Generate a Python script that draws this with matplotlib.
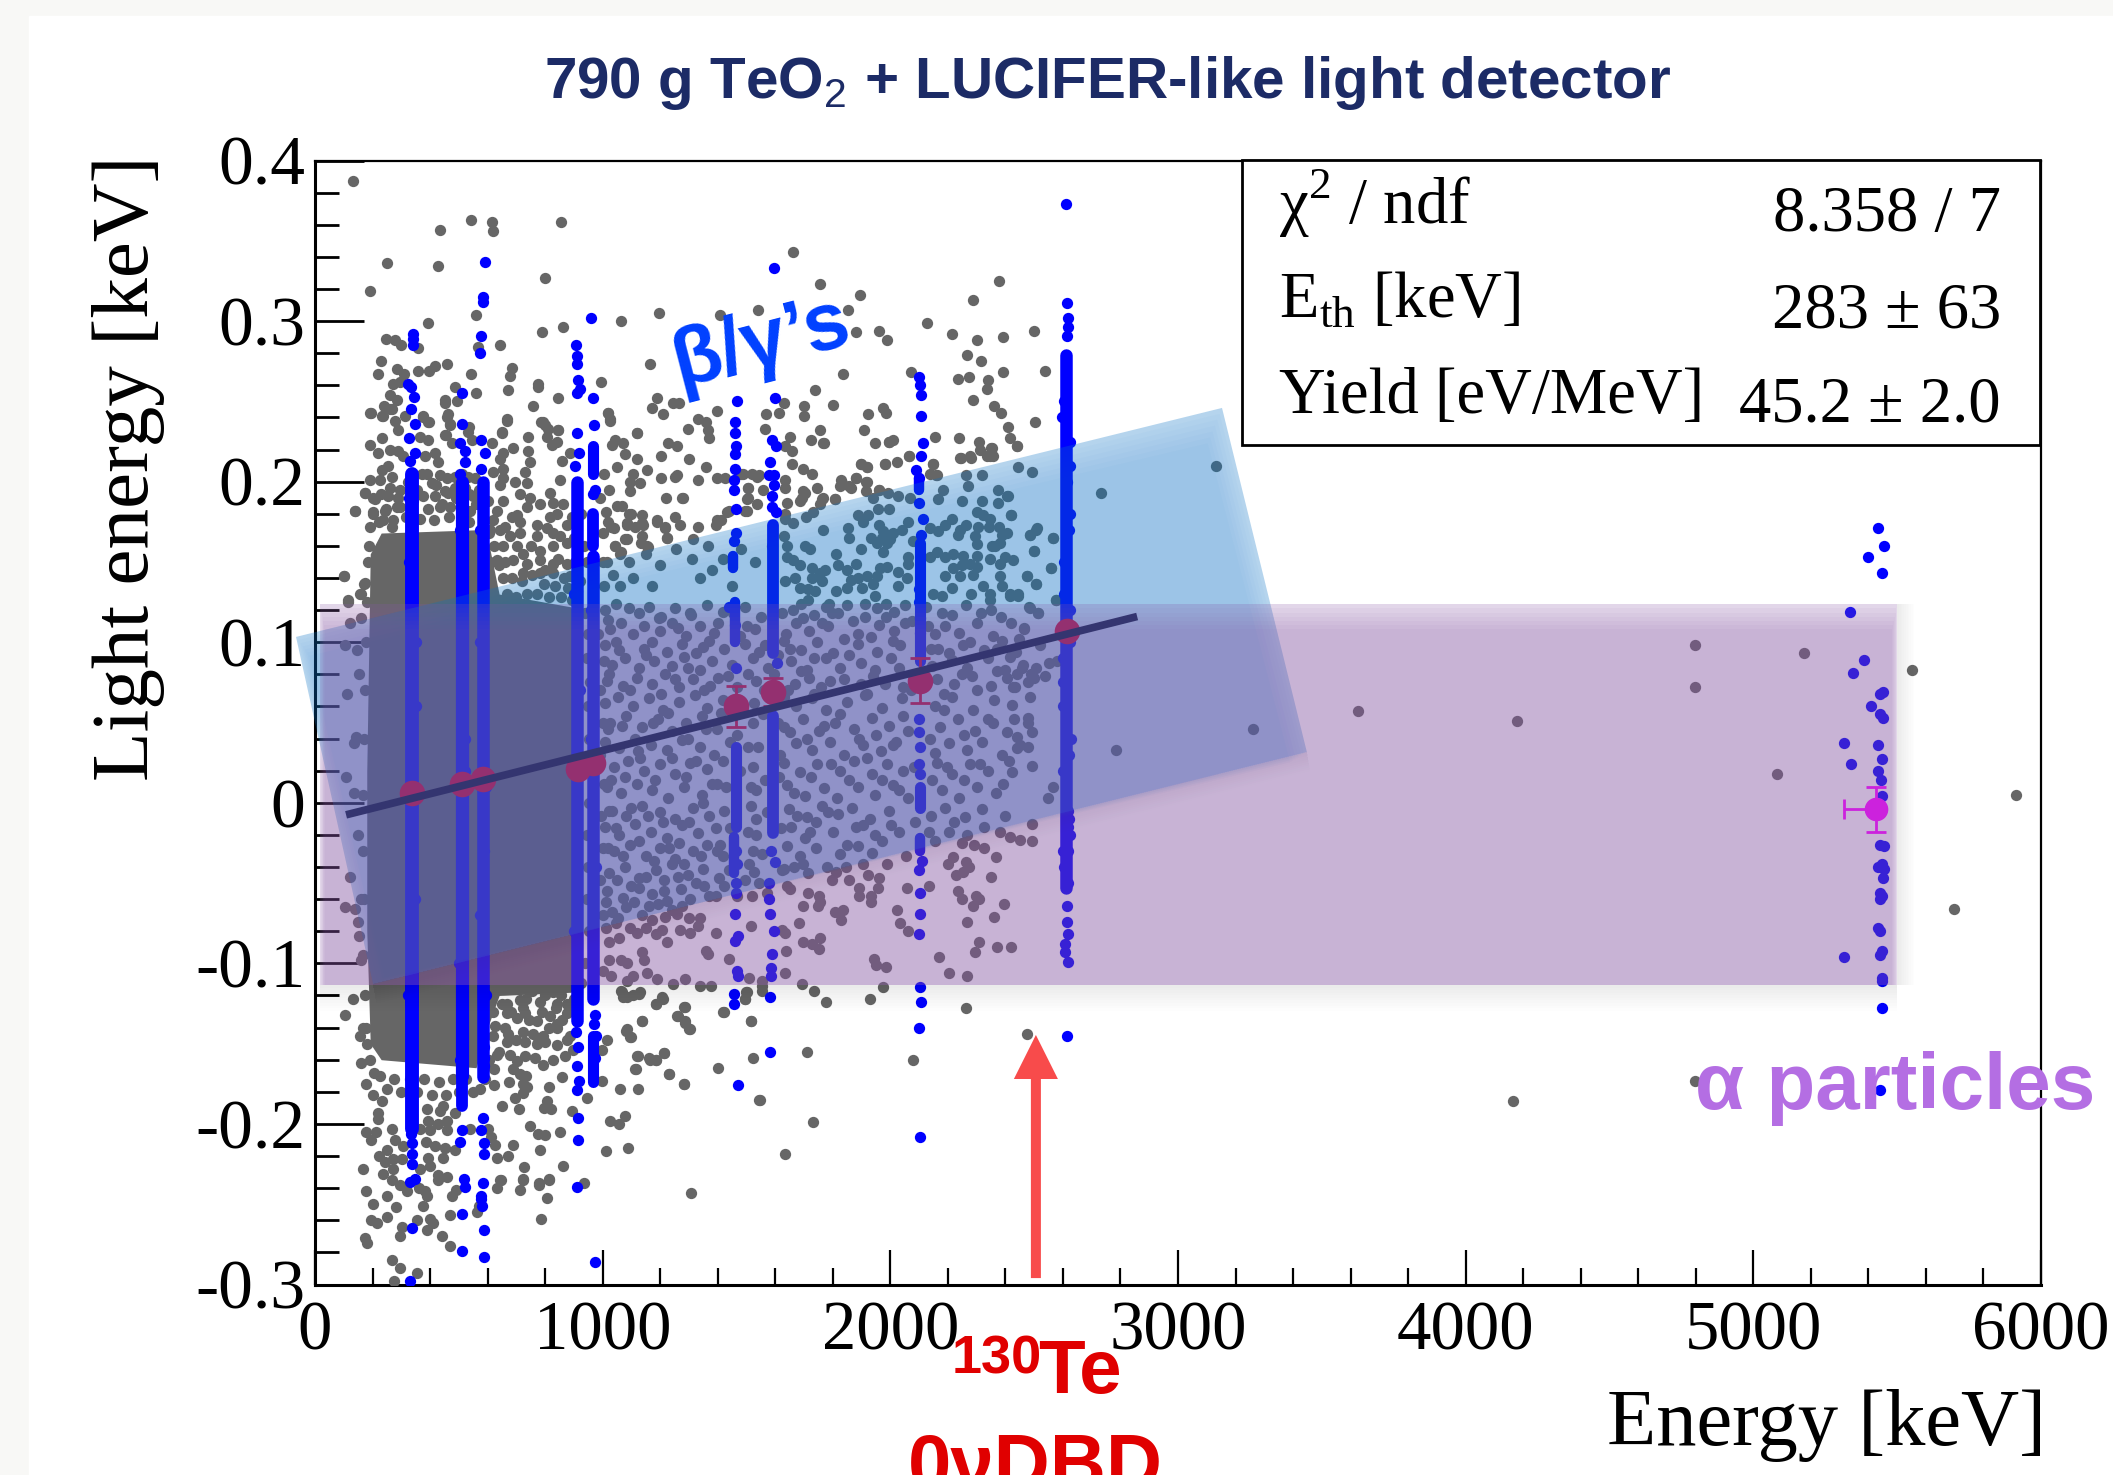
import numpy as np
import matplotlib
matplotlib.use('Agg')
import matplotlib.pyplot as plt
from matplotlib.patches import Polygon, Rectangle

plt.rcParams['mathtext.fontset'] = 'custom'
plt.rcParams['mathtext.rm'] = 'Liberation Serif'
plt.rcParams['mathtext.sf'] = 'Liberation Sans'

# all points below are (energy in keV, light in eV)
gray_top = [(131,387),(249,336),(191,319),(434,357),(427,334),(542,363),(615,362),(620,356),(854,362),(801,327),
 (1661,343),(1757,323),(1893,316),(2379,325),(2287,313),(560,304),(393,299),(643,285),(565,284),(861,296),(790,293),
 (1064,300),(1195,305),(1409,304),(1539,307),(1853,307),(1879,293),(1961,294),(1989,288),(2126,299),(2214,292),
 (2303,288),(2390,290),(2500,294),(2266,279),(2316,275),(2539,269),(2390,268),(1835,267),(2071,268),(2234,264),
 (2275,265),(2340,263),(2335,258),(2287,251),(2360,247),(2385,243),(2408,234),(2417,227),(2440,222),(2504,237),
 (2154,228),(2238,227),(2309,225),(2351,221),(2245,215),(2280,215),(2346,216),(2064,216),(2147,211),(2160,204),
 (246,289),(278,288),(299,285),(359,283),(230,275),(218,267),(285,270),(310,267),(358,269),(395,269),(418,272),
 (459,273),(544,267),(686,271),(677,266),(774,261),(774,259),(672,257),(845,252),(560,255),(487,259),(453,251),
 (453,249),(494,250),(271,261),(294,262),(262,254),(241,247),(285,251),(193,243),(232,241),(267,245),(312,241),
 (377,241),(397,237),(464,242),(468,235),(537,234),(453,229),(668,239),(650,231),(759,247),(787,237),(799,235),
 (844,232),(994,262),(1019,243),(1024,239),(1119,230),(1166,273),(1189,252),(1172,246),(1211,242),(1243,249),
 (1264,249),(1228,224),(1257,222),(1204,216),(1299,214),(1358,209),(1204,202),(1251,203),(1260,204),(1331,201),
 (1399,202),(1424,202),(1221,190),(1278,190),(1397,244),(1331,239),(1358,237),(1367,232),(1370,227),(1296,233),
 (1567,242),(1612,243),(1629,249),(1700,247),(1700,241),(1801,248),(1737,257),(1924,242),(1973,246),(1984,243),
 (1565,233),(1757,232),(1908,232),(1650,228),(1725,226),(1768,224),(1996,225),(2009,226),(1482,205),(1518,205),
 (1544,204),(1505,196),(1505,190),(1500,182),(1899,211),(1920,209),(1982,211),(1881,202),(1828,201),(1863,196),
 (1917,200),(1961,195),(1704,193),(1686,188),(1766,190),(1807,189),(1757,186),(1730,181),(1633,177),(1438,182),
 (1411,176),(1393,173),(1331,172),(1269,173),(1216,171),(1189,175),(1140,173),(1092,180),(1083,173),(1039,171),
 (1083,164),(1044,160),(1062,156),(1133,162),(1154,160),(1225,165),(1313,164),(140,182),(173,193),(102,141),(116,126),
 (161,115),(120,112),(104,98),(147,95),(152,80),(111,68),(170,136),(161,130)]

gray_upper = [(191,243),(238,241),(261,245),(278,238),(290,232),(232,227),(191,223),(220,218),(261,220),(290,219),(307,216),
 (255,210),(232,207),(191,201),(226,201),(267,203),(174,193),(255,191),(296,195),(209,189),(203,181),(243,182),(284,184),
 (191,172),(238,176),(267,172),(377,240),(394,237),(365,228),(394,226),(382,216),(417,218),(429,212),(371,205),(435,204),
 (406,199),(458,202),(487,203),(417,191),(464,193),(435,184),(377,191),(469,184),(458,240),(469,236),(455,229),(475,224),
 (533,231),(545,226),(533,203),(556,202),(521,196),(550,191),(539,182),(614,224),(649,230),(666,238),(794,237),(811,233),
 (846,232),(742,228),(805,228),(840,225),(823,223),(742,219),(689,221),(655,218),(643,214),(747,212),(730,206),(655,208),
 (620,206),(655,202),(695,200),(736,199),(643,198),(857,213),(886,218),(852,201),(713,192),(655,188),(747,190),(817,193),
 (782,186),(828,187),(863,186),(736,184),(701,179),(817,178),(840,180),(713,175),(771,173),(805,171),(875,173),(620,176),
 (643,170),(678,166),(713,168),(771,166),(828,168),(852,166),(655,160),(701,160),(782,157),(828,160),(875,162),(875,149),
 (689,151),(736,149),(782,151),(828,149),(632,151),(724,143),(782,143),(828,143),(886,141),(139,182),(102,141),(174,137),
 (157,130),(116,125),(1020,243),(1025,238),(1118,230),(1043,226),(1031,223),(1072,224),(1078,217),(1118,214),(1049,209),
 (1153,207),(1107,205),(1095,200),(1130,199),(1022,195),(1095,194),(1275,190),(1097,180),(1135,179),(1135,174),(1083,174),
 (1112,172),(1188,176),(1217,172),(1251,178),(1078,164),(1043,160),(1060,155),(1135,166),(1159,159),(1222,165),(1396,176),
 (1431,181),(1495,182),(1506,196),(1503,189),(1535,186),(1489,205),(1535,203),(1049,185),(1066,185),(1012,181),(1000,168),
 (1030,172),(1015,150),(1035,142),(1005,135),(1060,135),(905,150),(920,138),(900,165),(935,160),(895,178),(925,180),(945,150),
 (1005,205),(990,190),(1020,175),(1000,150)]

# around the edge of the solid part of the cloud
gray_rim = [(178,100),(175,70),(171,40),(168,5),(166,-30),(170,-60),(168,-95),(175,-120),(178,-140),(183,150),(180,125),(186,160),
 (200,180),(222,175),(248,183),(270,176),(295,184),(318,178),(342,188),(365,177),(392,183),(415,176),(440,186),(465,178),(490,190),
 (512,180),(535,175),(560,186),(585,178),(605,168),(622,160),(638,148),(652,140),(668,130),(685,140),(700,128),(718,138),(738,130),
 (755,142),(772,130),(795,136),(812,128),(835,135),(855,128),(878,134),(895,126),(912,132),(938,118),(950,105),(945,90),(955,75),
 (948,60),(952,40),(944,20),(952,0),(946,-20),(950,-40),(945,-60),(952,-80),(940,-100),(925,-112),(900,-122),(882,-128),(860,-135),
 (838,-128),(815,-140),(790,-130),(770,-150),(745,-135),(722,-128),(700,-148),(682,-130),(660,-140),(640,-155),(620,-145),(605,-160),
 (590,-172),(572,-178),(548,-180),(525,-172),(500,-180),(478,-172),(455,-182),(430,-174),(405,-182),(380,-172),(355,-180),(330,-172),
 (300,-180),(275,-172),(250,-178),(225,-170),(205,-168),(192,-160),(182,-150),(200,190),(230,192),(262,196),(290,190),(322,200),
 (355,195),(388,205),(420,198),(452,194),(485,196),(510,205),(535,192),(570,195),(600,188),(610,170),(632,182),(662,172),(685,178),
 (722,155),(752,160),(800,145),(845,152),(865,140),(905,128),(660,150),(610,150),(595,150),(575,-130),(600,-125),(620,-130),(650,-125),
 (735,-122),(800,-120),(855,-120)]

gray_lower = [(131,-122),(104,-132),(168,-140),(157,-145),(159,-162),(177,-175),(203,-182),(232,-186),(220,-193),(220,-197),
 (177,-205),(212,-205),(194,-210),(267,-203),(278,-210),(307,-214),(251,-216),(224,-220),(243,-224),(272,-222),(301,-222),
 (166,-228),(238,-231),(270,-228),(267,-235),(296,-238),(365,-228),(394,-221),(400,-226),(426,-232),(458,-233),(429,-235),
 (386,-211),(417,-214),(452,-215),(446,-221),(487,-216),(394,-198),(365,-203),(400,-204),(429,-200),(458,-198),(460,-204),
 (435,-192),(487,-193),(388,-191),(446,-189),(539,-203),(603,-203),(611,-208),(626,-213),(634,-221),(670,-220),(690,-213),
 (728,-227),(645,-235),(723,-234),(779,-237),(815,-234),(861,-226),(936,-237),(782,-216),(851,-205),(800,-207),(776,-206),
 (749,-201),(796,-190),(819,-191),(808,-186),(710,-191),(651,-189),(695,-184),(722,-181),(736,-177),(722,-175),(674,-174),
 (622,-176),(622,-166),(687,-166),(713,-169),(732,-170),(857,-171),(815,-177),(892,-192),(946,-184),(828,-160),(794,-163),
 (765,-159),(730,-158),(701,-161),(678,-157),(632,-157),(869,-158),(898,-154),(776,-149),(800,-149),(840,-151),(875,-148),
 (730,-149),(672,-144),(626,-139),(666,-149),(724,-143),(759,-144),(794,-145),(840,-140),(886,-145),(701,-134),(730,-131),
 (771,-136),(840,-138),(875,-131),(817,-133),(666,-125),(713,-123),(782,-124),(840,-125),(875,-125),(666,-131),(753,-117),
 (828,-118),(1066,-118),(1072,-121),(1107,-120),(1130,-118),(1211,-122),(1185,-125),(1285,-127),(1263,-133),(1286,-136),
 (1299,-141),(1138,-136),(1081,-142),(1095,-146),(1014,-148),(996,-154),(1122,-158),(1161,-159),(1185,-160),(1213,-156),
 (1402,-165),(1115,-166),(1231,-169),(1283,-175),(1122,-178),(1060,-178),(998,-173),(1422,-130),(1497,-118),(1496,-122),
 (1516,-136),(1521,-159),(1544,-185),(1027,-198),(1057,-200),(1078,-195),(1013,-217),(1089,-215),
 (175,-271),(180,-274),(200,-250),(179,-242),(281,-252),(249,-258),(196,-260),(214,-262),(303,-264),(356,-260),(400,-259),
 (409,-262),(391,-266),(294,-270),(441,-270),(471,-276),(267,-285),(296,-290),(356,-293),(276,-298),(320,-242),(249,-245),
 (361,-240),(382,-242),(391,-245),(374,-251),(475,-245),(468,-257),(489,-241),(563,-255),(569,-251),(631,-240),(643,-235),
 (723,-235),(714,-241),(778,-238),(815,-235),(806,-246),(785,-259),(104,-65),(140,-66),(120,-46),(148,-74),(152,-83),(161,-98),
 (107,16),(134,37),(143,41),(134,6),(150,-20),(160,-60),(1548,-185),(1732,-199),(1633,-219),(1306,-243),(1709,-155),
 (2078,-160),(2264,-128),(2475,-144),(1734,-117),(1778,-124),(1929,-122),(1973,-115),(1693,-113)]

gray_right = [(2262,204),(2320,204),(2269,197),(2182,195),(2374,195),(2407,191),(2165,189),(2248,188),(2320,188),(2373,187),(2419,179),
 (2300,181),(2323,179),(2346,177),(2214,177),(2063,175),(2138,171),(2190,173),(2167,169),(2242,170),(2263,173),(2306,172),(2344,172),
 (2379,172),(2407,168),(2387,167),(2509,171),(2485,167),(2565,165),(2294,166),(2236,167),(2028,191),(2068,190),(1939,190),(1958,183),
 (1996,183),(1889,179),(1924,179),(1906,175),(1962,173),(1707,178),(1663,174),(1767,170),(1854,171),(1856,165),(1976,169),(2008,168),
 (2039,170),(1933,165),(1970,165),(1999,164),(1952,162),(1987,162),(2078,163),(1703,160),(1721,158),(1640,160),(1630,166),(1897,158),
 (1976,156),(1811,155),(1640,153),(1663,151),(1686,148),(1817,148),(1881,149),(1848,145),(1727,146),(1773,145),(1964,146),(1990,147),
 (2063,153),(2063,149),(2138,153),(2190,153),(2161,156),(2219,155),(2254,154),(2300,154),(2364,160),(2381,162),(2300,161),(2355,160),
 (2499,157),(2399,153),(2428,151),(2346,152),(2381,149),(2248,148),(2277,149),(2300,147),(2219,146),(2190,141),(2242,141),(2288,142),
 (2475,141),(2559,146),(2506,136),(2381,141),(2028,144),(2057,140),(1953,141),(1918,141),(1889,140),(1862,139),(1756,143),(1727,140),
 (1669,140),(1634,138),(1686,134),(1715,133),(1738,132),(1761,138),(1811,132),(1851,134),(1900,134),(1939,136),(2028,135),(1947,129),
 (2149,130),(2178,129),(2213,134),(2279,130),(2323,135),(2346,130),(2387,135),(2416,129),(2445,129),(2346,126),(2576,126),(1715,126),
 (1788,124),(1912,124),(1985,124),(2051,123),(1634,222),(1657,219),(1659,211),(1695,208),(1727,205),(1634,201),(1634,196),(1559,195),
 (1698,194),(1746,196),(1692,190),(1640,187),(1761,189),(1808,189),(1831,199),(1825,197),(1880,202),(1918,200),(1857,197),(1915,194),
 (1962,195),(1993,193),(1897,211),(1918,209),(1981,211),(2022,212),(2065,216),(1947,224),(1767,224),(1997,225),(2149,211),(2138,205),
 (2161,204),(2242,215),(2277,216),(2312,220),(2335,216),(2358,216),(2439,222),(2352,221),(1634,180),(1090,150),(1150,155),(1200,148),
 (1255,158),(1310,152),(1365,160),(1420,152),(1480,158),(1530,150),(1590,160),(1105,140),(1170,135),(1340,140),(1450,135),(1380,145)]

gray_mid = [(1009,120),(1045,124),(1125,118),(1161,122),(1204,116),(1253,121),(1307,117),(1362,123),(1417,119),(1496,122),(1551,116),
 (1661,120),(1691,124),(1734,117),(1777,122),(1819,118),(1850,123),(1911,116),(1953,121),(2014,119),(2124,122),(2215,117),
 (2264,123),(2350,120),(2386,116),(2484,121),(2514,118),(1027,108),(1064,112),(1106,105),(1143,110),(1198,107),(1240,112),(1289,104),
 (1338,110),(1387,106),(1502,110),(1636,105),(1673,112),(1716,107),(1783,110),(1886,105),(1960,111),(2014,107),(2051,112),(2155,105),
 (2191,110),(2240,106),(2301,112),(2356,104),(2465,109),(1009,98),(1058,95),(1173,100),(1222,94),(1277,99),(1326,93),(1368,101),
 (1423,96),(1496,99),(1545,94),(1630,101),(1691,95),(1746,100),(1801,93),(1886,99),(1953,94),(2008,101),(2167,96),(2204,93),
 (2277,100),(2326,95),(2387,101),(2436,94),(2520,98),(1033,86),(1076,90),(1125,84),(1180,88),(1240,85),(1283,91),(1338,83),
 (1381,88),(1448,86),(1521,90),(1575,84),(1655,88),(1709,83),(1777,90),(1825,84),(1898,87),(1947,83),(2002,90),(2145,85),
 (2216,89),(2265,84),(2338,90),(2399,83),(2460,86),(1015,76),(1070,73),(1119,78),(1173,74),(1216,80),(1265,72),(1314,77),(1374,73),
 (1435,79),(1533,76),(1594,80),(1667,74),(1716,78),(1759,72),(1838,77),(1898,74),(1941,79),(2045,72),(2162,77),(2222,74),(2283,79),
 (2350,73),(2405,78),(2478,75),(1009,62),(1052,66),(1106,60),(1161,65),(1210,58),(1265,63),(1320,67),(1362,59),(1417,64),(1527,62),
 (1630,66),(1673,60),(1728,65),(1777,58),(1850,63),(1911,67),(1972,59),(2039,65),(2155,60),(2216,66),(2289,58),(2362,64),(2423,61),
 (2484,66),(1027,50),(1082,54),(1137,47),(1192,52),(1240,45),(1289,50),(1344,54),(1399,46),(1521,50),(1630,47),(1697,52),(1752,45),
 (1807,50),(1874,46),(1935,53),(1996,48),(2045,54),(2173,47),(2234,52),(2295,45),(2356,50),(2478,53),(1009,38),(1058,34),(1112,40),
 (1167,36),(1222,33),(1277,39),(1338,35),(1387,30),(1442,38),(1539,35),(1618,30),(1673,37),(1728,33),(1789,38),(1838,30),(1905,36),
 (1966,32),(2021,38),(2155,31),(2204,37),(2265,33),(2320,38),(2387,30),(2478,35),(1039,22),(1088,26),(1143,20),(1198,24),(1253,18),
 (1302,25),(1362,21),(1417,26),(1521,22),(1630,25),(1685,19),(1746,24),(1825,20),(1874,26),(1935,18),(1990,24),(2045,20),(2161,25),
 (2216,18),(2277,24),(2338,20),(2411,26),(1015,10),(1064,6),(1119,12),(1173,8),(1228,3),(1283,10),(1344,5),(1399,12),(1533,8),(1642,11),
 (1703,4),(1770,9),(1813,3),(1886,10),(1947,5),(2008,11),(2063,3),(2179,8),(2240,3),(2301,10),(2368,6),(1033,-5),(1082,-8),(1137,-2),
 (1198,-6),(1253,-10),(1314,-3),(1368,-8),(1423,-5),(1533,-10),(1649,-4),(1709,-9),(1764,-2),(1819,-7),(1868,-3),(1929,-10),(1996,-5),
 (2142,-8),(2191,-3),(2259,-9),(2320,-4),(2399,-8),(1009,-15),(1058,-20),(1112,-13),(1167,-18),(1222,-22),(1277,-14),(1332,-19),(1393,-16),
 (1533,-20),(1654,-15),(1703,-22),(1740,-12),(1801,-18),(1880,-15),(1947,-20),(2002,-14),(2136,-18),(2222,-12),(2265,-20),(2326,-15),
 (1039,-30),(1094,-26),(1149,-33),(1198,-28),(1253,-35),(1314,-30),(1362,-26),(1417,-33),(1521,-30),(1642,-27),(1685,-33),(1740,-28),
 (1825,-32),(1886,-27),(1935,-31),(1021,-44),(1076,-40),(1125,-47),(1186,-42),(1240,-38),(1295,-45),(1350,-41),(1405,-47),(1527,-43),
 (1630,-41),(1697,-38),(1015,-55),(1070,-59),(1125,-53),(1173,-57),(1222,-61),(1271,-54),(1326,-50),(1368,-58),(1423,-52),(1496,-48),
 (1545,-50),(1033,-68),(1082,-65),(1137,-70),(1192,-63),(1240,-67)]

# second pass over the same area, between the ones above
gray_mid2 = [(985,105),(1003,88),(992,70),(1001,50),(990,30),(1005,12),(993,-8),(1002,-28),(990,-48),(1000,-70),(1018,114),(1092,121),(1142,96),
 (1196,115),(1262,109),(1302,118),(1350,97),(1401,112),(1452,118),(1476,104),(1531,108),(1566,98),(1622,118),(1652,96),(1698,115),(1736,90),(1762,112),
 (1798,118),(1840,102),(1870,113),(1932,103),(1985,116),(2032,98),(2074,113),(2132,110),(2180,118),(2252,98),(2315,118),(2372,96),(2418,112),(2448,102),
 (1022,80),(1048,100),(1094,70),(1150,92),(1204,68),(1252,77),(1298,84),(1352,70),(1402,78),(1466,72),(1506,80),(1560,70),(1608,92),(1645,70),(1690,82),
 (1736,68),(1790,76),(1855,92),(1920,68),(1982,74),(2030,84),(2072,70),(2140,96),(2188,68),(2250,80),(2300,70),(2372,82),(2435,72),(2505,84),(1018,46),(1066,48),
 (1122,32),(1176,50),(1226,56),(1298,40),(1358,46),(1410,56),(1468,42),(1505,35),(1556,55),(1610,50),(1652,44),(1712,40),(1768,48),(1825,55),(1890,40),
 (1950,42),(2010,36),(2062,45),(2138,40),(2188,58),(2255,42),(2340,52),(2405,44),(2452,36),(1030,14),(1076,16),(1130,28),(1182,14),(1240,28),(1290,16),(1325,26),
 (1380,12),(1430,10),(1476,20),(1515,10),(1566,14),(1612,16),(1664,6),(1725,16),(1795,24),(1855,14),(1920,28),(1970,14),(2030,8),(2082,22),(2144,14),(2196,22),
 (2256,14),(2312,24),(2392,12),(1022,-5),(1046,-16),(1100,-3),(1158,-8),(1210,-12),(1265,-25),(1300,-12),(1350,0),(1408,-26),(1442,-16),(1505,-18),(1515,-2),
 (1570,-6),(1620,-16),(1675,-8),(1722,-18),(1785,-6),(1850,-26),(1905,-14),(1970,-24),(2030,-18),(2085,-12),(2155,-24),(2205,-18),(2290,-26),(2380,-18),
 (1020,-28),(1070,-33),(1125,-24),(1178,-36),(1232,-28),(1282,-38),(1342,-33),(1398,-30),(1440,-42),(1510,-38),(1555,-32),(1622,-42),(1665,-40),(1715,-44),
 (1780,-40),(1845,-40),(1905,-38),(1050,-48),(1100,-52),(1150,-46),(1212,-48),(1262,-46),(1305,-60),(1352,-52),(1395,-58),(1468,-58),(1520,-58),(1572,-56),
 (1640,-52),(1010,-62),(1055,-72),(1108,-62),(1160,-64),(1214,-55),(1275,-64),(1300,-72),(1010,-78),(1045,-75),(1095,-78),(1150,-78),(1185,-82)]

gray_purple = [(2493,-13),(2417,-21),(2450,-23),(2491,-24),(2250,-25),(2324,-28),(2053,-33),(2369,-34),(2218,-34),(1987,-38),(2200,-38),
 (2262,-37),(2275,-40),(2253,-43),(2227,-45),(2351,-46),(1922,-45),(1961,-47),(1810,-43),(1798,-48),(1855,-48),(2135,-52),(2058,-53),
 (1957,-53),(1890,-53),(1890,-58),(2236,-55),(2298,-58),(2248,-60),(2307,-60),(2289,-64),(2394,-63),(2023,-67),(1934,-58),(1934,-62),
 (1752,-58),(1757,-62),(1713,-56),(1651,-54),(1695,-64),(1748,-64),(1807,-68),(1837,-67),(1828,-73),(2032,-75),(2062,-80),(2266,-74),
 (2362,-71),(1682,-75),(1624,-79),(1633,-81),(1517,-77),(1695,-87),(1727,-88),(1757,-84),(1753,-91),(1636,-92),(2307,-87),(2372,-90),
 (2418,-90),(2294,-93),(2170,-96),(1943,-97),(1949,-101),(1984,-102),(2204,-106),(2266,-108),(1635,-106),(1509,-109),(1553,-111),
 (1438,-97),(1358,-92),(1367,-94),(1393,-81),(1340,-72),(1331,-77),(1260,-69),(1216,-71),(1172,-73),(1207,-79),(1269,-79),(1305,-81),
 (1225,-87),(1119,-81),(1056,-84),(1021,-87),(1136,-93),(1065,-98),(1021,-98),(1083,-100),(1145,-98),(1154,-106),(1189,-110),(1287,-110),
 (1083,-111),(1243,-113),(1340,-114),(1376,-114),(1553,-114),(1500,-118),(1494,-122),(1553,-117),(1516,-136),(1420,-130),(1305,-141),
 (1287,-137),(1260,-133),(1282,-127),(1207,-121),(1184,-125),(1136,-136),(1083,-141),(1097,-146),(1065,-117),(1083,-121),(1127,-119),
 (1120,-158),(1163,-160),(1184,-160),(1212,-156),(1230,-169),(1113,-166),(1282,-175),(1000,-105),(1030,-108),(1105,-108)]

gray_far = [(2445,209),(2491,206),(2408,191),(2419,179),(2508,170),(2485,167),(2565,165),(2499,157),(2559,146),(2475,141),(2506,136),
 (2416,130),(2445,130),(2576,126),(2482,122),(2514,118),(2466,108),(2416,91),(2552,87),(2580,88),(2456,84),(2441,80),(2488,80),(2500,78),
 (2537,79),(2427,72),(2430,52),(2479,50),(2492,44),(2442,41),(2442,34),(2494,23),(2422,19),(2566,10),(2547,3),(3133,210),(2732,193),
 (3260,46),(2786,33),(3625,57),(4180,51),(4797,98),(4797,72),(4166,-186),(5176,93),(5083,18),(5552,83),(5697,-66),(5914,5),(4797,-173)]

# solid part of the low energy cloud, too dense to read point by point
cloud_e = [180, 192, 230, 560, 600, 640, 890, 930]
cloud_top = [20, 155, 168, 170, 165, 130, 122, 95]
cloud_bottom = [-80, -150, -160, -165, -140, -120, -118, -105]

# blue peaks: runs that merge into a solid stripe (energy, low, high, width)
blue_runs = [(338,-203,205,10),(512,-170,200,9.5),(512,-189,-170,8.5),(585,-171,200,9),(911,-136,200,9),(968,-122,154,9),
 (968,160,180,8.5),(968,205,222,8),(966,-174,-145,8),(1456,-44,-21,7.5),(1462,-15,35,8),(1459,100,125,7.5),(1452,146,154,7.5),
 (1592,-19,54,8.5),(1592,93,173,8.5),(2103,88,162,8),(2103,-3,10,8),(2103,-30,-22,7.5),(2612,-53,279,9),(2101,195,202,7.5)]
blue_e = [342,342,342,324,335,345,335,349,326,333,338,338,338,347,331,338,329,325,350,328,348,326,350,330,346,
 512,512,503,521,512,505,518,520,512,512,501,522,503,521,504,505,520,
 590,583,583,578,574,586,586,586,583,578,588,586,583,578,581,586,587,589,574,596,575,595,575,578,590,578,
 907,911,911,915,912,920,911,908,914,911,919,911,914,915,911,900,922,900,905,918,
 961,968,970,966,973,971,976,973,972,958,978,958,975,
 1468,1459,1459,1464,1459,1459,1457,1457,1462,1464,1457,1461,1462,1470,1456,1455,1471,1462,1468,1465,1462,1460,1470,
 1594,1598,1587,1601,1581,1578,1597,1597,1590,1588,1601,1605,1583,1581,1585,1600,1578,1578,1580,1596,1590,1585,1585,
 2101,2103,2106,2106,2113,2108,2090,2099,2099,2115,2106,2103,2103,2099,2100,2098,2099,2103,2100,2102,2110,2098,2104,2104,2104,2101,
 2610,2615,2619,2617,2615,2602,2625,2600,2624,2620,2615,2600,2605,2613,2608,2622,2606,2619,2615,2616,2616,2618,2617,2616,2615,
 2598,2626,2602,2624,2600,2622,2604,2625,2599,2627,2601,2623]
blue_y = [292,289,285,261,259,253,245,236,227,-206,-212,-219,-225,-234,-236,-265,-298,-120,60,150,-60,190,100,213,218,
 255,236,224,219,-204,-211,-234,-239,-256,-279,-100,40,-160,20,170,205,212,
 337,315,312,291,280,-152,-159,-164,-196,-204,-212,-219,-237,-247,-251,-266,-283,-30,100,-120,170,10,-70,226,218,208,
 285,278,273,263,255,258,230,-143,-152,-164,-173,-179,-196,-210,-239,-80,70,130,210,218,
 302,252,235,192,-132,-138,-145,-159,-286,40,-40,120,195,
 250,237,230,222,217,208,201,195,183,168,163,111,84,-108,-119,-125,-176,-30,-38,-50,-56,-69,-83,
 333,252,226,222,212,204,204,198,191,184,181,87,-121,-155,-30,-37,-50,-60,-69,-80,-94,-103,-108,
 265,260,254,241,224,216,207,202,187,177,167,115,106,133,125,52,44,35,24,18,-36,-42,-56,-69,-115,-140,
 373,311,302,296,291,150,120,90,-20,30,-64,60,-40,-74,-88,170,-93,-99,-145,-82,-50,-30,-15,-5,200,
 240,210,130,100,20,-10,250,180,75,40,-30,225]
blue_low_e = [1440,2104,1459,1467,2100,2106,576]
blue_low_y = [122,-208,-86,-105,-82,-124,-245]

alpha_e = [5433,5454,5398,5449,5336,5383,5345,5452,5440,5410,5442,5450,5316,5435,5448,5339,5433,5444,5446,5440,5453,5446,5432,5453,
 5450,5440,5449,5442,5432,5439,5446,5440,5315,5448,5446,5446,5440]
alpha_y = [171,160,153,143,119,89,81,69,68,60,55,53,37,36,27,24,20,14,4,-26,-27,-38,-40,-41,-47,-56,-58,-60,-78,-80,-92,-95,-96,-109,
 -111,-128,-179]

fit_e = [338, 512, 583, 915, 968, 1462, 1591, 2103, 2613]
fit_y = [6, 12, 15, 21, 25, 60, 69, 76, 107]
fit_err = [0, 0, 0, 0, 0, 13, 9, 14, 0]
line_e = [108, 2858]
line_y = [-7.5, 116]

alpha_pt_e = 5428
alpha_pt_y = -4
alpha_pt_xerr = 113
alpha_pt_yerr = 14

x_ticks = [0, 1000, 2000, 3000, 4000, 5000, 6000]
x_labels = ['0', '1000', '2000', '3000', '4000', '5000', '6000']
y_ticks = [-0.3, -0.2, -0.1, 0, 0.1, 0.2, 0.3, 0.4]
y_labels = ['-0.3', '-0.2', '-0.1', '0', '0.1', '0.2', '0.3', '0.4']

stat_names = ['\u03c7$^{\\mathrm{2}}$ / ndf', 'E$_{\\mathrm{th}}$ [keV]', 'Yield [eV/MeV]']
stat_values = ['8.358 / 7', '283 \u00b1 63', '45.2 \u00b1 2.0']

W, H = 2113, 1475
SERIF = 'Liberation Serif'
SANS = 'Liberation Sans'


def ftext(x, y, s, **kw):
    # x, y in pixels of the picture, y from the top
    return fig.text(x / W, 1 - y / H, s, **kw)


fig = plt.figure(figsize=(W / 100, H / 100), dpi=100, facecolor='#f8f8f6')
fig.add_artist(Rectangle((29 / W, 0), 1, 1 - 16 / H, transform=fig.transFigure, color='white', zorder=-5))
ax = fig.add_axes([315 / W, 1 - 1284.5 / H, 1726 / W, 1124 / H], facecolor='none')
ax.set_xlim(0, 6000)
ax.set_ylim(-0.3, 0.4)

ax.fill_between(cloud_e, np.array(cloud_bottom) / 1000, np.array(cloud_top) / 1000, color='#666666', lw=0, zorder=2)
for pts in [gray_top, gray_upper, gray_rim, gray_lower, gray_right, gray_mid, gray_mid2, gray_purple, gray_far]:
    arr = np.array(pts, dtype=float)
    ax.scatter(arr[:, 0], arr[:, 1] / 1000, s=66, color='#666666', lw=0, zorder=3)

for e, lo, hi, w in blue_runs:
    ax.plot([e, e], [lo / 1000, hi / 1000], color='#0000ff', lw=w, solid_capstyle='round', zorder=4)
ax.scatter(np.array(blue_e), np.array(blue_y) / 1000, s=66, color='#0000ff', lw=0, zorder=4)
ax.scatter(np.array(blue_low_e), np.array(blue_low_y) / 1000, s=66, color='#0000ff', lw=0, zorder=4)
ax.scatter(np.array(alpha_e), np.array(alpha_y) / 1000, s=66, color='#0000ff', lw=0, zorder=4)


# the two coloured bands, lighter towards their edges
def band(corners, centre, color, base, step, fx, fy, z):
    corners = np.array(corners)
    centre = np.array(centre)
    ax.add_patch(Polygon(corners, closed=True, color=color, alpha=base, lw=0, clip_on=False, zorder=z))
    for k in range(1, 7):
        inner = centre + (corners - centre) * np.array([1 - fx * k, 1 - fy * k])
        ax.add_patch(Polygon(inner, closed=True, color=color, alpha=step, lw=0, clip_on=False, zorder=z))


def shadow(p1, p2, dx, dy, z):
    for k in range(1, 11):
        off = np.array([dx, dy]) * k / 10
        ax.add_patch(Polygon([p1, p2, np.array(p2) + off, np.array(p1) + off], closed=True, color='black',
                             alpha=0.009, lw=0, clip_on=False, zorder=z))


blue_band = [(-66, 0.1033), (3153, 0.2459), (3448, 0.0316), (202, -0.1129)]
purple_band = [(18, 0.1237), (5500, 0.1237), (5500, -0.1135), (18, -0.1135)]

shadow(blue_band[3], blue_band[2], 12, -0.012, 4.5)
band(blue_band, (1500, -0.06), '#0a73c5', 0.30, 0.023, 0.005, 0.012, 5)
shadow(purple_band[3], purple_band[2], 0, -0.016, 5.5)
shadow(purple_band[1], purple_band[2], 60, 0, 5.5)
band(purple_band, (2750, -0.1135), '#8756a5', 0.24, 0.047, 0.001, 0.011, 6)

ax.plot(np.array(line_e), np.array(line_y) / 1000, color='#343570', lw=5.5, solid_capstyle='butt', zorder=8)
ax.errorbar(fit_e, np.array(fit_y) / 1000, yerr=np.array(fit_err) / 1000, fmt='none', ecolor='#943070', elinewidth=2,
            capsize=7, capthick=2, zorder=7)
ax.scatter(fit_e, np.array(fit_y) / 1000, s=340, color='#943070', lw=0, zorder=7)
ax.errorbar([alpha_pt_e], [alpha_pt_y / 1000], xerr=[[alpha_pt_xerr], [0]], yerr=alpha_pt_yerr / 1000, fmt='o', ms=16,
            color='#cc22dd', elinewidth=2, capsize=7, capthick=2, zorder=8)

ax.annotate('', xy=(2506, -0.1446), xytext=(2506, -0.296), zorder=9,
            arrowprops=dict(width=7.2, headwidth=31.7, headlength=31.7, shrink=0, lw=0, color='#f84b4b'))

for s in ['top', 'right']:
    ax.spines[s].set_linewidth(1.6)
for s in ['left', 'bottom']:
    ax.spines[s].set_linewidth(2.2)
ax.set_xticks(x_ticks)
ax.set_xticklabels(x_labels, fontsize=49.5, family=SERIF)
ax.set_yticks(y_ticks)
ax.set_yticklabels(y_labels, fontsize=50, family=SERIF)
ax.set_xticks(np.arange(0, 6001, 200), minor=True)
ax.set_yticks(np.arange(-0.3, 0.4001, 0.02), minor=True)
ax.tick_params(axis='x', which='major', direction='in', length=25, width=1.6, pad=12)
ax.tick_params(axis='x', which='minor', direction='in', length=12.5, width=1.6)
ax.tick_params(axis='y', which='major', direction='in', length=35, width=2.0, pad=7)
ax.tick_params(axis='y', which='minor', direction='in', length=17.5, width=2.0)

# stats box
box = Rectangle((1242 / W, 1 - 445 / H), 798 / W, 284.5 / H, transform=fig.transFigure, facecolor='white',
                edgecolor='black', lw=2, zorder=10)
fig.add_artist(box)
for name, val, yn, yv in zip(stat_names, stat_values, [224, 317, 413], [231, 327, 421]):
    ftext(1279, yn, name, fontsize=46.5, family=SERIF, va='baseline', zorder=11)
    ftext(2001, yv, val, fontsize=46.5, family=SERIF, va='baseline', ha='right', zorder=11)

ftext(129, 468, 'Light energy [keV]', fontsize=58.5, family=SERIF, rotation=90, ha='center', va='center')
ftext(2046, 1445, 'Energy [keV]', fontsize=58, family=SERIF, ha='right', va='baseline')

ftext(1108, 98, '790 g TeO$_{\\mathsf{2}}$ + LUCIFER-like light detector', fontsize=42, family=SANS, weight='bold',
      color='#1c2b66', ha='center', va='baseline')
ftext(761, 344, '\u03b2/\u03b3\u2019s', fontsize=58, family=SANS, weight='bold', color='#0040ff', rotation=14.5,
      ha='center', va='center', rotation_mode='anchor', zorder=12)
ftext(1695, 1109, '\u03b1 particles', fontsize=57.5, family=SANS, weight='bold', color='#b46ee3', va='baseline', zorder=12)
ftext(952, 1373, '130', fontsize=39, family=SANS, weight='bold', color='#e00000', va='baseline', zorder=12)
ftext(1038, 1393, 'Te', fontsize=55, family=SANS, weight='bold', color='#e00000', va='baseline', zorder=12)
ftext(908, 1489, '0\u03bdDBD', fontsize=56, family=SANS, weight='bold', color='#e00000', va='baseline', zorder=12)

fig.savefig('out.png', dpi=100, facecolor=fig.get_facecolor())
